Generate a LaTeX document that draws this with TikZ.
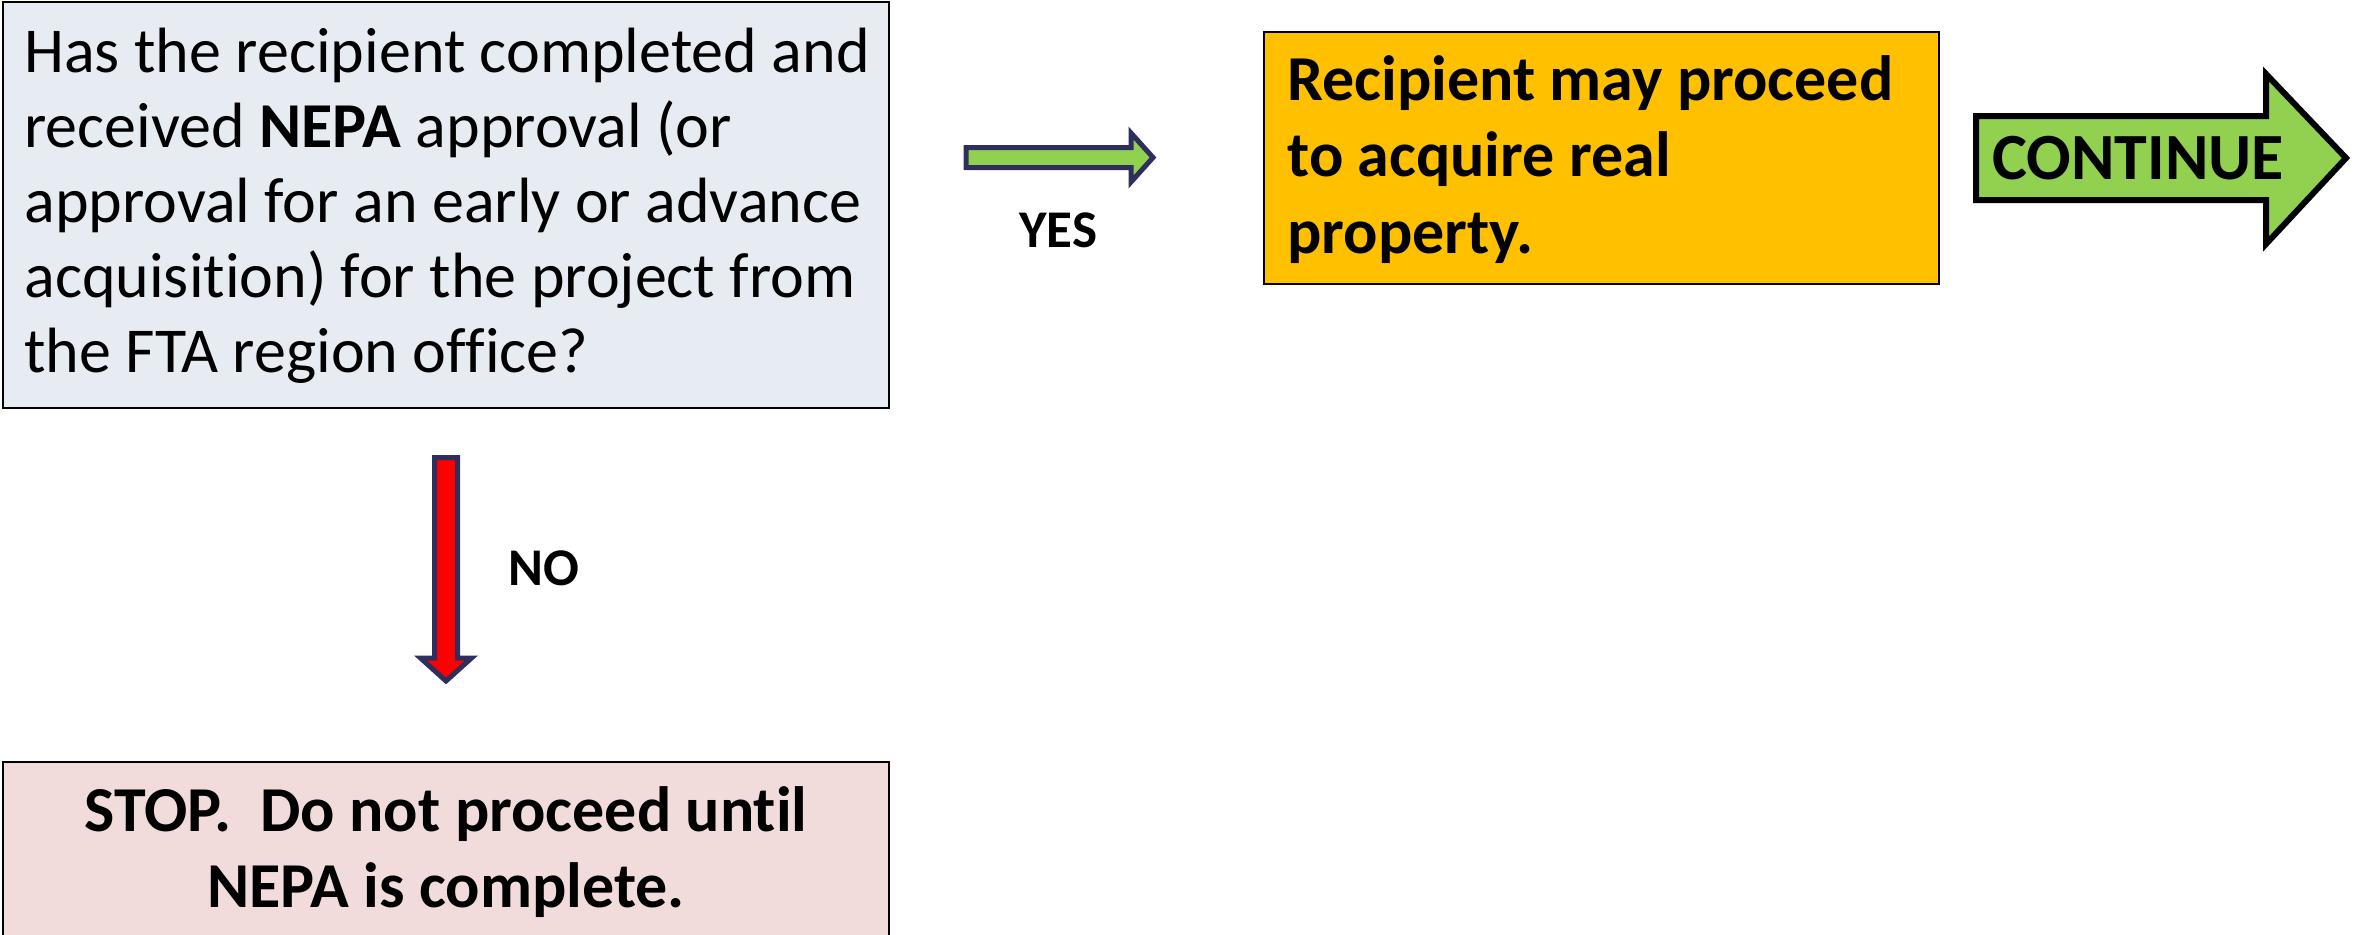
\documentclass[tikz,border=0pt]{standalone}
\usepackage{fontspec}
\setmainfont{Carlito}[Ligatures=NoCommon]
\usetikzlibrary{calc}
\definecolor{qfill}{RGB}{231,236,242}
\definecolor{yfill}{RGB}{255,192,0}
\definecolor{gfill}{RGB}{146,208,80}
\definecolor{sfill}{RGB}{242,220,219}
\definecolor{navy}{RGB}{47,47,94}
\definecolor{rfill}{RGB}{255,0,0}
\tikzset{
  panel/.style={draw=black, line width=1.2pt},
  bigtext/.style={inner sep=0pt, font=\fontsize{32pt}{37.5pt}\selectfont},
  labeltext/.style={inner sep=0pt, font=\fontsize{26.5pt}{32pt}\selectfont\bfseries},
  blockarrow/.style={line width=2.5pt, draw=navy, line join=miter},
}
\begin{document}
\begin{tikzpicture}[x=0.5pt,y=-0.5pt]
\useasboundingbox (0,0) rectangle (2354,934);

% question box
\draw[panel, fill=qfill] (3,2) rectangle (889,408);
\node[bigtext, anchor=north west, align=left] (qt) at (24,22)
  {\rule{0pt}{25pt}Has the recipient completed and\\
   received \textbf{NEPA} approval (or\\
   approval for an early or advance\\
   acquisition) for the project from\\
   the FTA region office?};

% yellow box
\draw[panel, fill=yfill] (1264,32) rectangle (1939,284);
\node[bigtext, anchor=north west, align=left, font=\fontsize{32pt}{38.25pt}\selectfont\bfseries] (yt) at (1287,50)
  {\rule{0pt}{25pt}Recipient may proceed\\
   to acquire real\\
   property.};

% stop box
\draw[panel, fill=sfill] (3,762) rectangle (889,960);
\node[bigtext, anchor=north, align=center, font=\fontsize{32pt}{38pt}\selectfont\bfseries] (st) at (446,781)
  {\rule{0pt}{25pt}STOP.\ \ Do not proceed until\\
   NEPA is complete.};

% YES arrow
\draw[blockarrow, fill=gfill] (966,147.5) -- (1131,147.5) -- (1131,133) -- (1153,157.5)
  -- (1131,182) -- (1131,167.5) -- (966,167.5) -- cycle;
\node[labeltext, anchor=base] (yes) at (1058,247) {YES};

% NO arrow
\draw[blockarrow, fill=rfill] (434.5,457.5) -- (457.5,457.5) -- (457.5,658) -- (471.5,658)
  -- (446,681) -- (420.5,658) -- (434.5,658) -- cycle;
\node[labeltext, anchor=base] (no) at (544,585) {NO};

% CONTINUE arrow
\draw[line width=3pt, draw=black, fill=gfill, line join=miter] (1976,116) -- (2266,116) -- (2266,74)
  -- (2346,158) -- (2266,244) -- (2266,200) -- (1976,200) -- cycle;
\node[inner sep=0pt, font=\fontsize{33pt}{38pt}\selectfont\bfseries] (cont) at (2138,158) {CONTINUE};
\end{tikzpicture}
\end{document}
